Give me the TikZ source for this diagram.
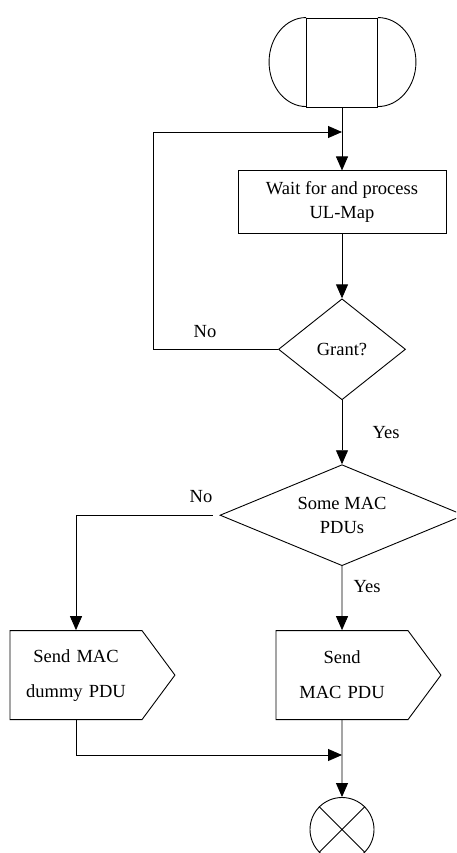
\documentclass[tikz,border=0pt]{standalone}
\usepackage{fontspec}
\setmainfont{Liberation Serif}
\usetikzlibrary{shapes.geometric, shapes.symbols, arrows.meta, positioning}
\tikzstyle{stadium} = [rectangle, draw, minimum width=71pt, minimum height=89pt, inner sep=0pt]
\tikzstyle{block} = [rectangle, draw, minimum width=208pt, minimum height=63pt, align=center]
\tikzstyle{decision} = [diamond, draw, inner sep=0pt, align=center, minimum height=101pt, aspect=2.4]
\tikzstyle{sendbox} = [signal, signal to=east, signal pointer angle=107, draw, text width=110pt, inner xsep=11pt, minimum height=89pt, align=center, font=\fontsize{18.5}{35}\selectfont]
\tikzstyle{stopcircle} = [circle, draw, minimum size=64pt, inner sep=0pt]
\tikzstyle{line} = [draw, -{Triangle[length=14pt, width=12pt]}]

\begin{document}
\begin{tikzpicture}[x=1pt, y=-1pt, line width=0.9pt, font=\fontsize{18.5}{24}\selectfont]
    \useasboundingbox (0,0) rectangle (456,853);
    \clip (0,0) rectangle (456,853);
    % Place nodes
    \node [stadium] (start) at (342,62.5) {};
    \node [block, below=63pt of start] (proc) {Wait for and process\\UL-Map};
    \node [decision, minimum width=127pt, below=64pt of proc] (grant) {Grant?};
    \node [decision, minimum width=244pt, below=64pt of grant] (macq) {Some MAC\\PDUs};
    \node [sendbox, below=64pt of macq] (sendm) {Send\\MAC PDU};
    \coordinate (dcol) at (76,0);
    \node [sendbox] (sendd) at (sendm.center -| dcol) {Send MAC\\dummy PDU};
    \node [stopcircle, below=77pt of sendm] (stop) {};

    % Round ends and cross
    \draw (start.north west) arc[start angle=90, end angle=270, x radius=37pt, y radius=44.5pt];
    \draw (start.north east) arc[start angle=90, end angle=-90, x radius=38pt, y radius=44.5pt];
    \draw (stop.north west) -- (stop.south east) (stop.north east) -- (stop.south west);

    % Labels
    \node (no1) at (205,332) {No};
    \node (yes1) at (386,433) {Yes};
    \node (no2) at (201,497) {No};
    \node (yes2) at (367,587) {Yes};

    % Draw edges
    \coordinate (join) at (342,132);
    \coordinate (loopx) at (153,0);
    \coordinate (merge) at (342,755);
    \path [line] (start) -- (proc);
    \path [line] (grant.west) -- (grant.west -| loopx) |- (join);
    \path [line] (proc) -- (grant);
    \path [line] (grant) -- (macq);
    \path [line, shorten <=7pt] (macq.west) -| (sendd.north);
    \path [line] (macq) -- (sendm);
    \path [line] (sendd.south) |- (merge);
    \path [line] (sendm) -- (stop);
\end{tikzpicture}
\end{document}
